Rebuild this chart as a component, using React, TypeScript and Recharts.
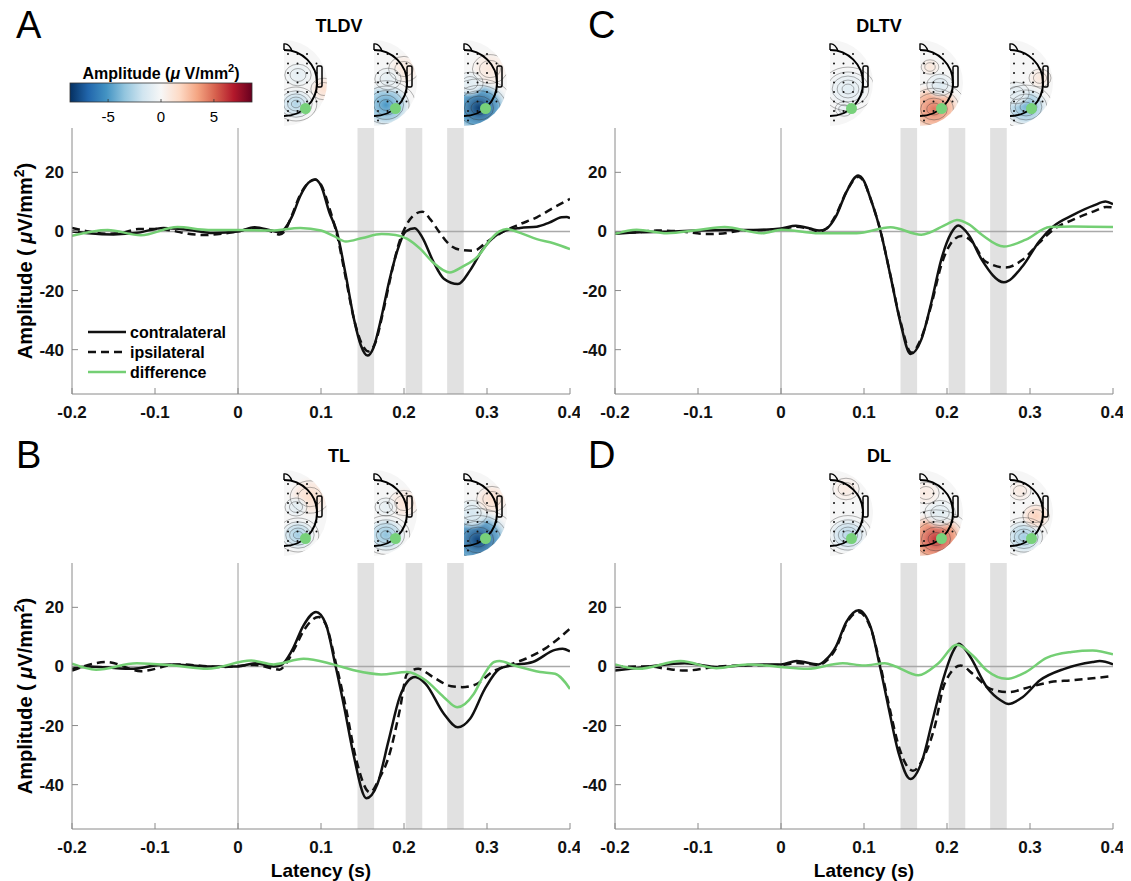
import React from "react";
import { LineChart, Line, XAxis, YAxis, ReferenceArea, ReferenceLine } from "recharts";

const FONT = "'Liberation Sans', Arial, sans-serif";

const xTicks = [-0.2, -0.1, 0, 0.1, 0.2, 0.3, 0.4];
const yTicks = [-40, -20, 0, 20];
const bands = [
  [0.144, 0.164],
  [0.202, 0.222],
  [0.252, 0.272],
];

// panel A: TLDV
const aContra = [
  [-0.2, 0], [-0.18, -0.6], [-0.15, -1], [-0.12, -0.4], [-0.09, 1.2], [-0.06, 0.6], [-0.03, -0.5], [0, 0],
  [0.02, 1.4], [0.04, 0.3], [0.05, -0.3], [0.055, 0.5], [0.065, 5], [0.075, 12], [0.085, 16.5], [0.093, 17.6],
  [0.1, 15.5], [0.11, 6.5], [0.119, 0], [0.13, -15], [0.14, -30], [0.148, -38.5], [0.156, -42], [0.163, -39.5],
  [0.172, -30], [0.182, -17], [0.192, -6.5], [0.202, 0], [0.213, 1.1], [0.222, -2], [0.235, -10], [0.248, -16],
  [0.265, -17.8], [0.28, -13], [0.295, -6], [0.31, -1.5], [0.32, 0], [0.34, 1.2], [0.36, 1.6], [0.375, 3],
  [0.39, 4.8], [0.396, 4.9], [0.4, 4.5],
];
const aIpsi = [
  [-0.2, 1.2], [-0.18, 0], [-0.16, -0.8], [-0.14, -0.5], [-0.12, 0.8], [-0.1, 0.8], [-0.08, 0.3], [-0.06, -0.8],
  [-0.04, -1.2], [-0.02, -0.8], [0, 0], [0.02, 1.2], [0.04, 0], [0.05, -1], [0.056, 0], [0.065, 5.5], [0.075, 12.5],
  [0.085, 16.5], [0.093, 17.6], [0.1, 15.8], [0.11, 8], [0.12, -2], [0.13, -16], [0.14, -30], [0.15, -38.5],
  [0.157, -40.6], [0.165, -38], [0.175, -27], [0.185, -14], [0.195, -3], [0.2, 0.5], [0.21, 5], [0.222, 6.7],
  [0.232, 4], [0.242, 0], [0.255, -4.5], [0.27, -6.3], [0.284, -6.5], [0.3, -3.5], [0.32, 0], [0.34, 2.5],
  [0.36, 4.8], [0.38, 8], [0.4, 11],
];
const aDiff = [
  [-0.2, -1.5], [-0.157, 0.5], [-0.117, -1.3], [-0.073, 1.5], [-0.036, 0.5], [0, 0.5], [0.04, 0.3], [0.075, 1.2],
  [0.1, 0.3], [0.115, -1.5], [0.13, -3.4], [0.15, -2.2], [0.173, -0.9], [0.19, -1.2], [0.204, -2.5], [0.22, -6],
  [0.235, -10.5], [0.255, -13.9], [0.27, -12], [0.289, -8.4], [0.305, -2.5], [0.315, 0], [0.324, 0.8],
  [0.34, -0.5], [0.36, -2.6], [0.38, -4], [0.4, -6],
];

// panel C: DLTV
const cContra = [
  [-0.2, -0.8], [-0.17, -0.3], [-0.13, 0], [-0.1, 0.3], [-0.05, 0.5], [-0.02, 0.6], [0, 1], [0.018, 1.9],
  [0.035, 1], [0.046, 0.3], [0.055, 1], [0.066, 5], [0.079, 13.5], [0.093, 18.9], [0.1, 17], [0.107, 11.8],
  [0.12, 0], [0.132, -15.2], [0.144, -31], [0.156, -41.5], [0.169, -36.6], [0.181, -24.2], [0.193, -9.6],
  [0.205, -0.6], [0.2135, 2], [0.226, -1.1], [0.242, -9.6], [0.2686, -17.2], [0.291, -11.8], [0.311, -3.4],
  [0.328, 1.7], [0.352, 5.6], [0.377, 8.8], [0.391, 10.1], [0.4, 9.2],
];
const cIpsi = [
  [-0.2, -0.5], [-0.17, -0.2], [-0.15, 0.3], [-0.12, 0], [-0.09, -0.9], [-0.07, -0.7], [-0.05, 0.2], [-0.02, 0.5],
  [0, 0.8], [0.018, 1.6], [0.035, 0.8], [0.046, 0], [0.055, 1], [0.066, 5.5], [0.079, 13.5], [0.093, 18.5],
  [0.1, 16.8], [0.107, 11.8], [0.12, 0], [0.132, -15], [0.144, -30.5], [0.157, -41], [0.169, -36], [0.181, -25],
  [0.193, -11.5], [0.205, -3.9], [0.2176, -1.5], [0.23, -3.4], [0.246, -10.1], [0.2706, -12.2], [0.291, -9.6],
  [0.311, -3.9], [0.328, 0.6], [0.352, 4], [0.377, 6.8], [0.392, 8.3], [0.4, 8.1],
];
const cDiff = [
  [-0.2, -0.8], [-0.174, 0.6], [-0.1375, -0.6], [-0.1, 0.5], [-0.068, 1.5], [-0.023, -0.6], [0.001, 0.6],
  [0.046, -0.6], [0.091, -0.6], [0.132, 1.4], [0.169, -1.1], [0.2, 2.5], [0.212, 3.9], [0.226, 2.5], [0.242, -1.1],
  [0.2686, -5.1], [0.295, -2.8], [0.3237, 1.5], [0.352, 1.7], [0.4, 1.5],
];

// panel B: TL
const bContra = [
  [-0.2, -0.8], [-0.18, 0], [-0.16, -0.3], [-0.126, -0.8], [-0.1, 0.3], [-0.082, 0.7], [-0.06, 0.4], [-0.037, 0],
  [0, 0], [0.021, 1.1], [0.043, 0], [0.052, 0.5], [0.065, 5.4], [0.079, 13.9], [0.094, 18.4], [0.1056, 14.5],
  [0.117, 0.9], [0.128, -13.8], [0.139, -29.6], [0.1547, -44.6], [0.168, -39.8], [0.1814, -25.1], [0.1948, -10.4],
  [0.2037, -5.3], [0.2135, -3.6], [0.226, -5.9], [0.248, -16], [0.2648, -20.6], [0.2796, -17.7], [0.2974, -7.6],
  [0.315, -0.8], [0.3286, 0.3], [0.355, 1.5], [0.382, 5.6], [0.391, 6], [0.4, 5.1],
];
const bIpsi = [
  [-0.2, -1.4], [-0.158, 1.5], [-0.117, -1.6], [-0.073, 0.7], [-0.019, -0.2], [0.02, 0.5], [0.043, -0.8],
  [0.05, -1.1], [0.058, 1], [0.068, 6], [0.08, 12.5], [0.097, 16.7], [0.106, 14], [0.118, 1], [0.13, -14],
  [0.142, -31], [0.159, -42.6], [0.17, -38], [0.1814, -30.7], [0.1948, -14.9], [0.2037, -2.5], [0.217, -0.8],
  [0.235, -3.6], [0.257, -6.7], [0.27, -7], [0.288, -5.9], [0.306, -1.9], [0.324, 0.3], [0.3465, 2.6],
  [0.373, 6.6], [0.4, 12.8],
];
const bDiff = [
  [-0.2, 0.9], [-0.171, -1.1], [-0.122, 1.1], [-0.077, 0.3], [-0.037, -0.8], [0.016, 2], [0.043, 0.7],
  [0.079, 2.6], [0.1145, 0.7], [0.141, -1.4], [0.1725, -2.7], [0.2037, -1.9], [0.226, -4.7], [0.248, -10.4],
  [0.264, -13.8], [0.284, -9.3], [0.297, -2.5], [0.3086, 1.5], [0.315, 1.8], [0.333, 0.3], [0.364, -1.9],
  [0.382, -2.5], [0.4, -7.6],
];

// panel D: DL
const dContra = [
  [-0.2, -1.4], [-0.159, 0], [-0.116, 1.1], [-0.074, -0.2], [-0.032, 0.6], [0, 0.7], [0.019, 1.8], [0.045, 0.7],
  [0.053, 2], [0.066, 6.6], [0.0786, 15], [0.0935, 19], [0.108, 13.3], [0.119, 0.3], [0.1295, -13.8],
  [0.142, -29.6], [0.156, -38.1], [0.17, -31.9], [0.1825, -18.3], [0.195, -4.7], [0.206, 4.3], [0.2143, 7.7],
  [0.227, 3.7], [0.248, -7], [0.265, -11.5], [0.274, -12.7], [0.291, -10.4], [0.312, -4.7], [0.3415, -0.8],
  [0.3755, 1.5], [0.384, 1.8], [0.4, 0.7],
];
const dIpsi = [
  [-0.2, -0.2], [-0.16, 0], [-0.138, -0.8], [-0.116, -1.4], [-0.074, 0], [-0.03, 0.4], [0, 0.5], [0.02, 1.2],
  [0.045, 0.5], [0.053, 1.5], [0.066, 6], [0.0786, 14.5], [0.0935, 18.4], [0.108, 13], [0.12, 0], [0.13, -13],
  [0.143, -28], [0.159, -35.3], [0.172, -30.7], [0.185, -20.6], [0.197, -5.9], [0.2165, 0.3], [0.231, -2.5],
  [0.2525, -7.6], [0.274, -8.7], [0.299, -7], [0.3246, -5.3], [0.35, -4.7], [0.3755, -4], [0.4, -3.2],
];
const dDiff = [
  [-0.2, 0.7], [-0.172, -0.8], [-0.121, 1.8], [-0.078, -0.6], [-0.04, 0.7], [-0.006, 0], [0.032, -0.8],
  [0.0744, 1.1], [0.1, 0.3], [0.125, 1.1], [0.138, 0], [0.1655, -3], [0.189, 0.9], [0.212, 7.3], [0.231, 3.7],
  [0.248, -1.4], [0.2716, -4.2], [0.295, -1.9], [0.32, 2.9], [0.35, 4.9], [0.3755, 5.4], [0.4, 4.1],
];

// scalp maps: [dx, dy, radius, amplitude] blobs, first one is the main one
const topoA = [
  [[12, 21, 14, -2.6], [40, 6, 12, 1.4], [14, -8, 12, -0.8]],
  [[12, 22, 20, -5], [30, -14, 14, 1], [14, -4, 12, -0.8]],
  [[15, 25, 24, -8.2], [26, -14, 16, 1], [6, 0, 12, -1]],
];
const topoC = [
  [[18, 6, 18, -1], [14, 26, 8, -0.6]],
  [[14, 26, 22, 4.6], [20, 2, 12, -1.2], [10, -16, 8, 1]],
  [[16, 24, 18, -4], [6, 10, 12, -1], [30, -5, 10, 1]],
];
const topoB = [
  [[14, 22, 14, -3], [26, -16, 18, 1.5], [12, -6, 10, -1]],
  [[12, 22, 16, -3.5], [30, -10, 14, 1.2], [12, -6, 10, -0.8]],
  [[14, 27, 26, -8], [8, 0, 14, -1.5], [28, -14, 14, 1.5]],
];
const topoD = [
  [[18, 22, 16, -2.5], [16, -24, 12, 0.8]],
  [[16, 26, 24, 6.2], [20, 0, 14, -1], [6, -20, 12, 0.8]],
  [[14, 24, 16, -3], [26, 3, 12, 2], [10, -22, 10, 0.8]],
];

const RDBU = ["#053061", "#2166ac", "#4393c3", "#92c5de", "#d1e5f0", "#f7f7f7", "#fddbc7", "#f4a582", "#d6604d", "#b2182b", "#67001f"];
const CMAX = 8.6;

function hex(c: string) {
  return [1, 3, 5].map((i) => parseInt(c.slice(i, i + 2), 16));
}
function cmap(v: number) {
  const f = Math.max(0, Math.min(1, (v + CMAX) / (2 * CMAX))) * 10;
  const i = Math.min(9, Math.floor(f));
  const t = f - i;
  const a = hex(RDBU[i]);
  const b = hex(RDBU[i + 1]);
  const m = a.map((x, k) => Math.round(x + (b[k] - x) * t));
  return `rgb(${m[0]},${m[1]},${m[2]})`;
}

const toPts = (arr: number[][]) => arr.map(([t, v]) => ({ t, v }));

const tickStyle = { fontSize: 17, fontWeight: 700, fill: "#111", fontFamily: FONT };

type PanelProps = { left: number; top: number; contra: number[][]; ipsi: number[][]; diff: number[][] };

function Panel({ left, top, contra, ipsi, diff }: PanelProps) {
  return (
    <div style={{ position: "absolute", left, top }}>
      <LineChart width={580} height={340} margin={{ top: 28, right: 10, bottom: 16, left: 32 }}>
        {bands.map(([x1, x2]) => (
          <ReferenceArea key={x1} x1={x1} x2={x2} fill="#e1e1e1" fillOpacity={1} stroke="none" ifOverflow="hidden" />
        ))}
        <XAxis
          type="number"
          dataKey="t"
          domain={[-0.2, 0.4]}
          ticks={xTicks}
          allowDataOverflow
          height={30}
          tickSize={-6}
          tickMargin={18}
          tick={tickStyle}
          stroke="#8a8a8a"
          tickFormatter={(v: number) => String(v)}
        />
        <YAxis
          type="number"
          domain={[-55, 35]}
          ticks={yTicks}
          allowDataOverflow
          width={40}
          tickSize={-6}
          tickMargin={14}
          tick={tickStyle}
          stroke="#8a8a8a"
        />
        <ReferenceLine y={0} stroke="#a9a9a9" strokeWidth={1.6} />
        <ReferenceLine x={0} stroke="#9a9a9a" strokeWidth={1} />
        <Line data={toPts(contra)} dataKey="v" type="monotone" stroke="#111" strokeWidth={2.5} dot={false} isAnimationActive={false} />
        <Line data={toPts(ipsi)} dataKey="v" type="monotone" stroke="#111" strokeWidth={2.5} strokeDasharray="8 5" dot={false} isAnimationActive={false} />
        <Line data={toPts(diff)} dataKey="v" type="monotone" stroke="#74cf74" strokeWidth={2.5} dot={false} isAnimationActive={false} />
      </LineChart>
    </div>
  );
}

function Topo({ id, cx, cy, blobs }: { id: string; cx: number; cy: number; blobs: number[][] }) {
  const R = 43;
  const r = 33;
  const dots: number[][] = [];
  for (let gx = 4; gx < 44; gx += 9.5) {
    for (let gy = -29; gy < 42; gy += 9.5) {
      if (gx * gx + gy * gy < 39 * 39) dots.push([cx + gx, cy + gy]);
    }
  }
  return (
    <g>
      <defs>
        <clipPath id={`clip-${id}`}>
          <path d={`M ${cx} ${cy - R} A ${R} ${R} 0 0 1 ${cx} ${cy + R} Z`} />
        </clipPath>
        {blobs.map(([, , , v], i) => (
          <radialGradient key={i} id={`g-${id}-${i}`}>
            <stop offset="0%" stopColor={cmap(v)} stopOpacity={1} />
            <stop offset="60%" stopColor={cmap(v * 0.6)} stopOpacity={0.85} />
            <stop offset="100%" stopColor={cmap(v * 0.2)} stopOpacity={0} />
          </radialGradient>
        ))}
      </defs>
      <g clipPath={`url(#clip-${id})`}>
        <rect x={cx} y={cy - R} width={R} height={2 * R} fill="#f6f6f6" />
        {blobs.map(([dx, dy, br], i) => (
          <ellipse key={i} cx={cx + dx} cy={cy + dy} rx={br * 1.3} ry={br * 1.2} fill={`url(#g-${id}-${i})`} />
        ))}
        {blobs.map(([dx, dy, br], i) =>
          (i === 0 ? [0.3, 0.55, 0.8, 1.05, 1.35] : [0.6, 1.0]).map((k) => (
            <ellipse
              key={`${i}-${k}`}
              cx={cx + dx}
              cy={cy + dy}
              rx={br * k * 1.1}
              ry={br * k * 0.9}
              fill="none"
              stroke="#333"
              strokeWidth={0.5}
              strokeOpacity={0.75}
            />
          ))
        )}
        {dots.map(([x, y], i) => (
          <circle key={i} cx={x} cy={y} r={1} fill="#111" />
        ))}
      </g>
      <path d={`M ${cx} ${cy - r} A ${r} ${r} 0 0 1 ${cx} ${cy + r}`} fill="none" stroke="#000" strokeWidth={2} />
      <path d={`M ${cx} ${cy - r} L ${cx} ${cy - r - 6} Q ${cx + 5} ${cy - r - 7} ${cx + 8} ${cy - r + 1}`} fill="none" stroke="#000" strokeWidth={1.4} />
      <rect x={cx + r} y={cy - 17} width={5} height={21} rx={1.5} fill="none" stroke="#000" strokeWidth={1.5} />
      <circle cx={cx + 21.5} cy={cy + 25.5} r={5.5} fill="#77d17a" />
    </g>
  );
}

function Colorbar() {
  const x0 = 70;
  const w = 182;
  const pos = (v: number) => x0 + ((v + CMAX) / (2 * CMAX)) * w;
  return (
    <g fontFamily={FONT}>
      <defs>
        <linearGradient id="cbar" x1="0" x2="1" y1="0" y2="0">
          {RDBU.map((c, i) => (
            <stop key={i} offset={`${i * 10}%`} stopColor={c} />
          ))}
        </linearGradient>
      </defs>
      <text x={161} y={79} textAnchor="middle" fontSize={16} fontWeight={700}>
        Amplitude (<tspan fontStyle="italic">μ</tspan> V/mm<tspan dy={-7} fontSize={11}>2</tspan>
        <tspan dy={7}>)</tspan>
      </text>
      <rect x={x0} y={83} width={w} height={19} fill="url(#cbar)" stroke="#333" strokeWidth={0.8} />
      {[-5, 0, 5].map((v) => (
        <g key={v}>
          <line x1={pos(v)} x2={pos(v)} y1={99} y2={102} stroke="#333" strokeWidth={0.8} />
          <text x={pos(v)} y={122} textAnchor="middle" fontSize={15}>
            {v}
          </text>
        </g>
      ))}
    </g>
  );
}

function YLabel({ y }: { y: number }) {
  return (
    <text transform={`translate(32, ${y}) rotate(-90)`} textAnchor="middle" fontSize={20} fontWeight={700} fontFamily={FONT}>
      Amplitude ( <tspan fontStyle="italic">μ</tspan>V/mm<tspan dy={-8} fontSize={14}>2</tspan>
      <tspan dy={8}>)</tspan>
    </text>
  );
}

export default function App() {
  const rowGap = 430;
  const lefts = [284, 374, 464];
  const colShift = 546;
  return (
    <div style={{ position: "absolute", left: 0, top: 0, width: 1131, height: 881, background: "#fff", fontFamily: FONT }}>
      <Panel left={0} top={100} contra={aContra} ipsi={aIpsi} diff={aDiff} />
      <Panel left={543} top={100} contra={cContra} ipsi={cIpsi} diff={cDiff} />
      <Panel left={0} top={535} contra={bContra} ipsi={bIpsi} diff={bDiff} />
      <Panel left={543} top={535} contra={dContra} ipsi={dIpsi} diff={dDiff} />
      <svg style={{ position: "absolute", left: 0, top: 0, pointerEvents: "none" }} width={1131} height={881}>
        <g fontFamily={FONT}>
          <text x={16} y={38} fontSize={38}>A</text>
          <text x={588} y={38} fontSize={38}>C</text>
          <text x={16} y={38 + rowGap} fontSize={38}>B</text>
          <text x={588} y={38 + rowGap} fontSize={38}>D</text>
          <text x={339} y={32} textAnchor="middle" fontSize={18} fontWeight={700}>TLDV</text>
          <text x={879} y={32} textAnchor="middle" fontSize={18} fontWeight={700}>DLTV</text>
          <text x={339} y={32 + rowGap} textAnchor="middle" fontSize={18} fontWeight={700}>TL</text>
          <text x={879} y={32 + rowGap} textAnchor="middle" fontSize={18} fontWeight={700}>DL</text>
          <text x={321} y={877} textAnchor="middle" fontSize={19} fontWeight={700}>Latency (s)</text>
          <text x={864} y={877} textAnchor="middle" fontSize={19} fontWeight={700}>Latency (s)</text>
        </g>
        <YLabel y={261} />
        <YLabel y={696} />
        <Colorbar />
        {lefts.map((x, i) => (
          <Topo key={`A${i}`} id={`A${i}`} cx={x} cy={83} blobs={topoA[i]} />
        ))}
        {lefts.map((x, i) => (
          <Topo key={`C${i}`} id={`C${i}`} cx={x + colShift} cy={83} blobs={topoC[i]} />
        ))}
        {lefts.map((x, i) => (
          <Topo key={`B${i}`} id={`B${i}`} cx={x} cy={83 + rowGap} blobs={topoB[i]} />
        ))}
        {lefts.map((x, i) => (
          <Topo key={`D${i}`} id={`D${i}`} cx={x + colShift} cy={83 + rowGap} blobs={topoD[i]} />
        ))}
        <g fontFamily={FONT} fontSize={16} fontWeight={700}>
          <line x1={88} x2={126} y1={332} y2={332} stroke="#111" strokeWidth={2.5} />
          <text x={130} y={338}>contralateral</text>
          <line x1={88} x2={126} y1={352} y2={352} stroke="#111" strokeWidth={2.5} strokeDasharray="8 5" />
          <text x={130} y={358}>ipsilateral</text>
          <line x1={88} x2={126} y1={372} y2={372} stroke="#74cf74" strokeWidth={2.5} />
          <text x={130} y={378}>difference</text>
        </g>
      </svg>
    </div>
  );
}
